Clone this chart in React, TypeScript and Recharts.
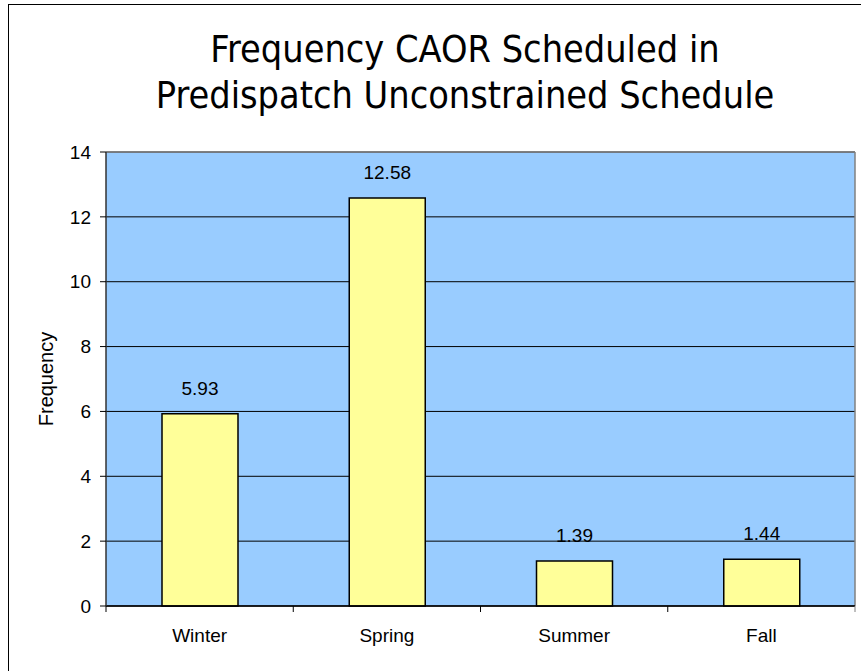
import React from 'react';
import { BarChart, Bar, XAxis, YAxis, CartesianGrid, LabelList } from 'recharts';

const seasons = ['Winter', 'Spring', 'Summer', 'Fall'];
const frequency = [5.93, 12.58, 1.39, 1.44];
const yTicks = [0, 2, 4, 6, 8, 10, 12, 14];

const data = seasons.map((name, i) => ({ name, value: frequency[i] }));

const TEXT_FONT = '"Liberation Sans", Arial, sans-serif';
const X_TICK_SIZE = 6;
const X_TICK_MARGIN = 17;

const YLabel = (props: any) => {
  const vb = props.viewBox || {};
  const cy = vb.y + vb.height / 2;
  return (
    <text
      x={46}
      y={cy}
      transform={`rotate(-90, 46, ${cy})`}
      textAnchor="middle"
      dominantBaseline="central"
      fontSize={20}
      fontFamily={TEXT_FONT}
      fill="#000"
    >
      Frequency
    </text>
  );
};

// category label plus the boundary tick marks between categories
const XTick = (props: any) => {
  const { x, y, payload, index, visibleTicksCount } = props;
  const half = payload && payload.offset ? payload.offset : 0;
  const axisY = y - X_TICK_SIZE - X_TICK_MARGIN;
  const last = index === visibleTicksCount - 1;
  return (
    <g>
      <line x1={x - half} x2={x - half} y1={axisY} y2={axisY + X_TICK_SIZE} stroke="#000" />
      {last && <line x1={x + half} x2={x + half} y1={axisY} y2={axisY + X_TICK_SIZE} stroke="#808080" />}
      <text x={x} y={y} dy="0.71em" textAnchor="middle" fontSize={19} fontFamily={TEXT_FONT} fill="#000">
        {payload.value}
      </text>
    </g>
  );
};

export default function App() {
  return (
    <div style={{ position: 'absolute', left: 0, top: 0, width: 861, height: 671, overflow: 'hidden', background: '#fff' }}>
      <div
        style={{
          position: 'absolute',
          left: 8,
          top: 4,
          width: 900,
          height: 700,
          border: '1px solid #000',
          boxSizing: 'border-box',
        }}
      />
      <div
        style={{
          position: 'absolute',
          left: 0,
          width: 930,
          top: 26,
          textAlign: 'center',
          fontFamily: '"DejaVu Sans Condensed", "DejaVu Sans", sans-serif',
          fontSize: 37.5,
          lineHeight: '46px',
          color: '#000',
        }}
      >
        Frequency CAOR Scheduled in
        <br />
        Predispatch Unconstrained Schedule
      </div>
      <div style={{ position: 'absolute', left: 0, top: 0 }}>
        <BarChart width={861} height={671} data={data} margin={{ top: 152, right: 6, bottom: 35, left: 0 }}>
          <CartesianGrid vertical={false} stroke="#000" fill="#99CCFF" fillOpacity={1} />
          <CartesianGrid
            stroke="#808080"
            strokeWidth={1.5}
            horizontalCoordinatesGenerator={({ offset }: any) => [offset.top]}
            verticalCoordinatesGenerator={({ offset }: any) => [offset.left + offset.width]}
          />
          <XAxis
            dataKey="name"
            tickLine={false}
            tickSize={X_TICK_SIZE}
            tickMargin={X_TICK_MARGIN}
            height={30}
            axisLine={{ stroke: '#000', strokeWidth: 1.5 }}
            tick={<XTick />}
          />
          <YAxis
            domain={[0, 14]}
            ticks={yTicks}
            width={106}
            tickSize={6}
            tickMargin={9}
            axisLine={{ stroke: '#333', strokeWidth: 1.5 }}
            tickLine={{ stroke: '#000' }}
            tick={{ fill: '#000', fontSize: 19, fontFamily: TEXT_FONT }}
            label={<YLabel />}
          />
          <Bar dataKey="value" fill="#FFFF99" stroke="#000" strokeWidth={1.5} barSize={76} isAnimationActive={false}>
            <LabelList dataKey="value" position="top" offset={19} fill="#000" fontSize={19} fontFamily={TEXT_FONT} />
          </Bar>
        </BarChart>
      </div>
    </div>
  );
}
